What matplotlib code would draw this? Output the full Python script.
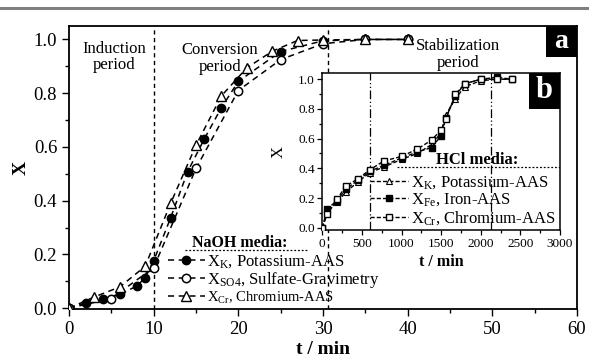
import matplotlib
matplotlib.use("Agg")
import matplotlib.pyplot as plt
from matplotlib.lines import Line2D
from matplotlib.patches import Rectangle
from matplotlib.ticker import MultipleLocator

plt.rcParams['font.family'] = ['Liberation Serif', 'DejaVu Serif']
plt.rcParams['mathtext.fontset'] = 'custom'
plt.rcParams['mathtext.rm'] = 'Liberation Serif'
plt.rcParams['mathtext.it'] = 'Liberation Serif:italic'
plt.rcParams['mathtext.bf'] = 'Liberation Serif:bold'

# ---- main panel data (NaOH media) ----
t_k = [0, 2, 4, 6, 8, 9, 10, 12, 14, 16, 18, 20, 25, 30, 35, 40]
x_k = [0.0, 0.02, 0.036, 0.052, 0.082, 0.114, 0.176, 0.336, 0.507, 0.631, 0.746, 0.844, 0.955, 0.995, 1.0, 1.0]
t_so4 = [0, 5, 10, 15, 20, 25, 30, 35, 40]
x_so4 = [0.0, 0.036, 0.151, 0.52, 0.81, 0.925, 0.984, 1.0, 1.0]
t_cr = [0, 3, 6, 9, 12, 15, 18, 21, 24, 27, 30, 35, 40]
x_cr = [0.0, 0.042, 0.079, 0.156, 0.39, 0.606, 0.79, 0.894, 0.956, 0.996, 0.998, 1.0, 1.0]
period_lines = [10, 30.6]

# ---- inset data (HCl media) ----
ti = [0, 60, 180, 300, 450, 600, 780, 1000, 1200, 1380, 1500, 1560, 1680, 1800, 2000, 2200, 2400]
xi_k = [0.0, 0.10, 0.17, 0.24, 0.31, 0.37, 0.41, 0.46, 0.50, 0.56, 0.64, 0.76, 0.87, 0.95, 0.99, 1.0, 1.0]
xi_fe = [0.0, 0.125, 0.18, 0.26, 0.32, 0.38, 0.42, 0.47, 0.51, 0.54, 0.62, 0.74, 0.89, 0.97, 1.0, 1.013, 1.0]
xi_cr = [0.0, 0.09, 0.19, 0.28, 0.33, 0.39, 0.45, 0.48, 0.53, 0.59, 0.66, 0.73, 0.90, 0.97, 1.0, 1.0, 1.0]
inset_lines = [600, 2130]

W, H = 589, 360
fig = plt.figure(figsize=(W / 100, H / 100), dpi=100)
fig.add_artist(Line2D([0, 1], [1 - 8 / H] * 2, color='#808080', lw=2.2,
                      transform=fig.transFigure))

ax = fig.add_axes([69 / W, 1 - 309 / H, 508 / W, 283 / H])
dash = (0, (4, 3))
l1, = ax.plot(t_k, x_k, ls=dash, lw=1.1, color='black', marker='o', ms=6,
              mfc='black', mec='black', zorder=3)
l2, = ax.plot(t_so4, x_so4, ls=dash, lw=1.1, color='black', marker='o', ms=6,
              mfc='white', mec='black', mew=1.1, zorder=3)
l3, = ax.plot(t_cr, x_cr, ls=dash, lw=1.1, color='black', marker='^', ms=6.5,
              mfc='white', mec='black', mew=1.0, zorder=3)
for v in period_lines:
    ax.axvline(v, color='black', lw=1.0, ls=(0, (3, 2.5)), zorder=1)

ax.set_xlim(0, 60)
ax.set_ylim(-0.003, 1.05)
ax.xaxis.set_major_locator(MultipleLocator(10))
ax.xaxis.set_minor_locator(MultipleLocator(5))
ax.yaxis.set_major_locator(MultipleLocator(0.2))
ax.yaxis.set_minor_locator(MultipleLocator(0.1))
ax.yaxis.set_major_formatter(matplotlib.ticker.FormatStrFormatter('%.1f'))
ax.tick_params(which='both', direction='out', labelsize=13.5, width=1.0)
ax.tick_params(which='major', length=5)
ax.tick_params(which='minor', length=3)
for s in ax.spines.values():
    s.set_linewidth(1.3)
ax.set_xlabel('t / min', fontsize=14, fontweight='bold', labelpad=2)
ax.set_ylabel('X', fontsize=14, fontweight='bold', labelpad=3)

ax.text(5.3, 0.934, 'Induction\nperiod', ha='center', va='center', fontsize=12, linespacing=1.05)
ax.text(17.8, 0.929, 'Conversion\nperiod', ha='center', va='center', fontsize=12, linespacing=1.05)
ax.text(45.9, 0.945, 'Stabilization\nperiod', ha='center', va='center', fontsize=12, linespacing=1.05)

# panel label a
ax.add_patch(Rectangle((1 - 31 / 508, 1 - 31 / 283), 31 / 508, 31 / 283,
                       transform=ax.transAxes, facecolor='black', edgecolor='none', zorder=5))
ax.text(1 - 15.5 / 508, 1 - 15.5 / 283, 'a', transform=ax.transAxes, ha='center', va='center',
        color='white', fontsize=20, fontweight='bold', zorder=6)

# main legend
leg = ax.legend([l1, l2, l3],
                [r'X$_\mathrm{K}$, Potassium-AAS', r'X$_\mathrm{SO4}$, Sulfate-Gravimetry',
                 r'X$_\mathrm{Cr}$, Chromium-AAS'],
                loc='upper left', bbox_to_anchor=((168 - 69) / 508, (309 - 253) / 283),
                frameon=False, borderpad=0, borderaxespad=0, handlelength=2.2,
                handletextpad=0.15, labelspacing=0.0, prop={'size': 12})
leg.get_texts()[2].set_fontsize(10.5)
ax.text((240 - 69) / 508, (309 - 243) / 283, 'NaOH media:', transform=ax.transAxes,
        ha='center', va='center', fontsize=11.5, fontweight='bold')
ax.plot([(185 - 69) / 508, (308 - 69) / 508], [(309 - 250) / 283] * 2, transform=ax.transAxes,
        color='black', lw=0.9, ls=(0, (1.5, 1.5)), clip_on=False)

# ---- inset ----
L, R, T, B = 322.3, 560, 73, 230
ax2 = fig.add_axes([L / W, 1 - B / H, (R - L) / W, (B - T) / H])
ax2.set_facecolor('white')
d2 = (0, (3, 1.5))
m1, = ax2.plot(ti, xi_k, ls=d2, lw=1.0, color='black', marker='^', ms=4,
               mfc='white', mec='black', mew=0.8, zorder=3)
m2, = ax2.plot(ti, xi_fe, ls=d2, lw=1.0, color='black', marker='s', ms=4.5,
               mfc='black', mec='black', zorder=3)
m3, = ax2.plot(ti, xi_cr, ls=d2, lw=1.0, color='black', marker='s', ms=5,
               mfc='white', mec='black', mew=1.0, zorder=4)
for v in inset_lines:
    ax2.axvline(v, color='black', lw=0.9, ls=(0, (7, 2, 1, 2, 1, 2)), zorder=1)
ax2.set_xlim(0, 3000)
ax2.set_ylim(-0.0155, 1.042)
ax2.xaxis.set_major_locator(MultipleLocator(500))
ax2.xaxis.set_minor_locator(MultipleLocator(250))
ax2.yaxis.set_major_locator(MultipleLocator(0.2))
ax2.yaxis.set_minor_locator(MultipleLocator(0.1))
ax2.yaxis.set_major_formatter(matplotlib.ticker.FormatStrFormatter('%.1f'))
ax2.tick_params(which='both', direction='out', labelsize=9.5, width=0.9, pad=2)
ax2.tick_params(which='major', length=3.5)
ax2.tick_params(which='minor', length=2)
for s in ax2.spines.values():
    s.set_linewidth(1.1)
ax2.set_xlabel('t / min', fontsize=11.5, fontweight='bold', labelpad=3)
ax2.set_ylabel('X', fontsize=12, labelpad=8)

ax2.add_patch(Rectangle((1 - 31 / (R - L), 1 - 36 / (B - T)), 31 / (R - L), 36 / (B - T),
                        transform=ax2.transAxes, facecolor='black', edgecolor='none', zorder=5))
ax2.text(1 - 15.5 / (R - L), 1 - 18 / (B - T), 'b', transform=ax2.transAxes, ha='center',
         va='center', color='white', fontsize=22, fontweight='bold', zorder=6)

leg2 = ax2.legend([m1, m2, m3],
                  [r'X$_\mathrm{K}$, Potassium-AAS', r'X$_\mathrm{Fe}$, Iron-AAS',
                   r'X$_\mathrm{Cr}$, Chromium-AAS'],
                  loc='upper left', bbox_to_anchor=((370 - L) / (R - L), (B - 174) / (B - T)),
                  frameon=False, borderpad=0, borderaxespad=0, handlelength=2.3,
                  handletextpad=0.15, labelspacing=0.05, prop={'size': 12})
ax2.text((477 - L) / (R - L), (B - 160) / (B - T), 'HCl media:', transform=ax2.transAxes,
         ha='center', va='center', fontsize=12, fontweight='bold')
ax2.plot([(397 - L) / (R - L), 1], [(B - 167) / (B - T)] * 2, transform=ax2.transAxes,
         color='black', lw=0.9, ls=(0, (1.5, 1.5)))

fig.savefig('out.png', dpi=100)
